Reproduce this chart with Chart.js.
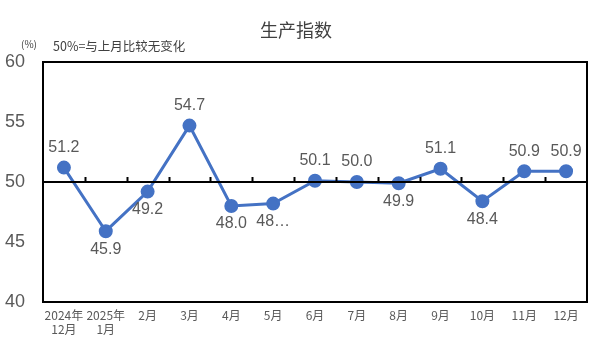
<!DOCTYPE html>
<html>
<head>
<meta charset="utf-8">
<script src="https://cdn.jsdelivr.net/npm/chart.js@4"></script>
<style>
  html, body { margin: 0; padding: 0; background: #fff; }
  #wrap { width: 591px; height: 354px; }
</style>
</head>
<body>
<div id="wrap"><canvas id="c" width="591" height="354"></canvas></div>
<script>
  // --- Dados ---------------------------------------------------------------
  var months = [["2024年", "12月"], ["2025年", "1月"], "2月", "3月", "4月", "5月", "6月",
                "7月", "8月", "9月", "10月", "11月", "12月"];
  var productionIndex = [51.2, 45.9, 49.2, 54.7, 48.0, 48.2, 50.1, 50.0, 49.9, 51.1, 48.4, 50.9, 50.9];
  var valueLabels = ["51.2", "45.9", "49.2", "54.7", "48.0", "48…", "50.1", "50.0", "49.9", "51.1", "48.4", "50.9", "50.9"];
  var labelBelow = [false, true, true, false, true, true, false, false, true, false, true, false, false];
  var yTicks = [40, 45, 50, 55, 60];
  var baseline = 50;

  var FONT_CJK = '"Noto Sans CJK SC", "Noto Sans", sans-serif';
  var FONT_NUM = '"Liberation Sans", "Noto Sans", sans-serif';

  // Título, nota de unidade, moldura e a linha de 50 com marcas.
  var decor = {
    id: "decor",
    beforeDraw: function (chart) {
      var ctx = chart.ctx;
      ctx.save();
      ctx.fillStyle = "#404040";
      ctx.font = "18px " + FONT_CJK;
      ctx.textAlign = "center";
      ctx.textBaseline = "middle";
      ctx.fillText("生产指数", 296, 30);
      ctx.textAlign = "left";
      ctx.font = "10px " + FONT_CJK;
      ctx.fillText("(%)", 21, 44);
      ctx.font = "12.5px " + FONT_CJK;
      ctx.fillText("50%=与上月比较无变化", 53, 46);
      ctx.restore();
    },
    afterDatasetsDraw: function (chart) {
      var ctx = chart.ctx, a = chart.chartArea;
      var y = chart.scales.y;
      ctx.save();
      ctx.strokeStyle = "#000";
      ctx.lineWidth = 2;
      ctx.strokeRect(a.left, a.top, a.right - a.left, a.bottom - a.top);
      var yb = Math.round(y.getPixelForValue(baseline));
      ctx.beginPath();
      ctx.moveTo(a.left, yb);
      ctx.lineTo(a.right, yb);
      var step = (a.right - a.left) / months.length;
      for (var i = 1; i < months.length; i++) {
        var xx = Math.round(a.left + step * i) + 0.5;
        ctx.moveTo(xx, yb);
        ctx.lineTo(xx, yb - 5);
      }
      ctx.stroke();
      ctx.restore();
    },
    afterDraw: function (chart) {
      var ctx = chart.ctx;
      var meta = chart.getDatasetMeta(0);
      ctx.save();
      ctx.fillStyle = "#595959";
      ctx.font = "16px " + FONT_NUM;
      ctx.textAlign = "center";
      ctx.textBaseline = "middle";
      meta.data.forEach(function (pt, i) {
        ctx.fillText(valueLabels[i], pt.x, pt.y + (labelBelow[i] ? 18 : -20));
      });
      ctx.restore();
    }
  };

  new Chart(document.getElementById("c"), {
    type: "line",
    data: {
      labels: months,
      datasets: [{
        data: productionIndex,
        borderColor: "#4472C4",
        backgroundColor: "#4472C4",
        borderWidth: 3,
        pointRadius: 5.5,
        pointHoverRadius: 5.5,
        tension: 0
      }]
    },
    options: {
      responsive: false,
      animation: false,
      events: [],
      layout: { autoPadding: false, padding: { top: 62, right: 4, left: 0, bottom: 0 } },
      plugins: { legend: { display: false }, tooltip: { enabled: false }, title: { display: false } },
      scales: {
        x: {
          offset: true,
          grid: { display: false, drawTicks: false },
          border: { display: false },
          ticks: { color: "#595959", font: { size: 12, family: FONT_CJK }, padding: 6, maxRotation: 0, autoSkip: false },
          afterFit: function (s) { s.height = 52; s.paddingRight = 0; s.paddingLeft = 0; }
        },
        y: {
          min: 40, max: 60,
          afterBuildTicks: function (s) { s.ticks = yTicks.map(function (v) { return { value: v }; }); },
          grid: { display: false, drawTicks: false },
          border: { display: false },
          ticks: { color: "#595959", font: { size: 18, family: FONT_NUM }, padding: 18 },
          afterFit: function (s) { s.width = 43; s.paddingTop = 0; s.paddingBottom = 0; }
        }
      }
    },
    plugins: [decor]
  });
</script>
</body>
</html>
